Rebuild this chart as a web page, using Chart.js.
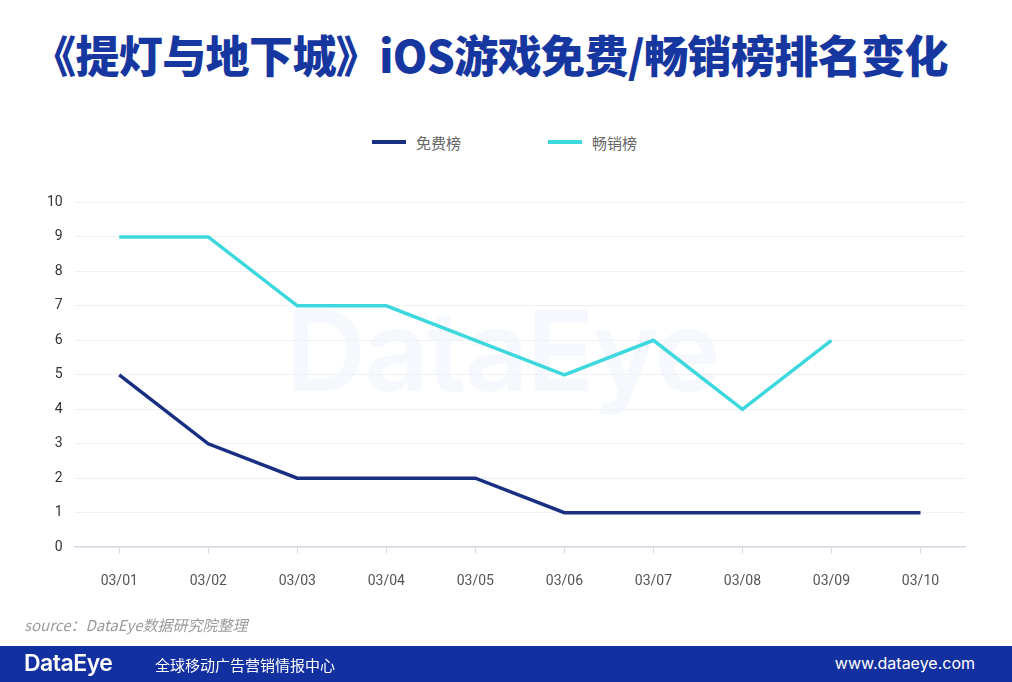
<!DOCTYPE html>
<html lang="zh">
<head>
<meta charset="UTF-8">
<title>提灯与地下城 iOS 排名变化</title>
<script src="https://cdn.jsdelivr.net/npm/chart.js@4.4.0/dist/chart.umd.min.js"></script>
<style>
  body { margin: 0; background: #fff; font-family: "Noto Sans CJK SC", "Noto Sans", sans-serif; }
  .page { position: relative; width: 1012px; height: 682px; overflow: hidden; background: #fff; }
  .title {
    position: absolute; top: 26px; left: -16px; width: 1012px; text-align: center;
    font-size: 44px; font-weight: 900; color: #1737a0; letter-spacing: -0.6px; line-height: 56px;
  }
  .legend { position: absolute; top: 131px; left: 0; width: 1012px; height: 22px; font-size: 15px; color: #666; }
  .legend .item { position: absolute; top: 0; display: flex; align-items: center; height: 22px; }
  .legend .swatch { width: 34px; height: 4px; margin-right: 10px; }
  .watermark {
    position: absolute; top: 282px; left: -4px; width: 1012px; text-align: center;
    font-family: "Inter", "Open Sans", sans-serif; font-size: 112px; font-weight: 600;
    color: rgba(215, 228, 245, 0.25); letter-spacing: -2px;
  }
  .chart-box { position: absolute; left: 0; top: 182px; width: 1012px; height: 440px; }
  .source {
    position: absolute; left: 24px; top: 614px; font-size: 15px; font-style: italic; color: #9a9a9a;
  }
  .footer {
    position: absolute; left: 0; top: 646px; width: 1012px; height: 36px; background: #1330a0; color: #fff;
  }
  .footer .logo { position: absolute; left: 24px; top: 3px; font-family: "Inter", sans-serif; font-size: 23px; font-weight: 600; letter-spacing: -0.5px; }
  .footer .slogan { position: absolute; left: 155px; top: 8px; font-size: 15px; }
  .footer .url { position: absolute; right: 37px; top: 7px; font-family: "Inter", sans-serif; font-size: 16px; }
</style>
</head>
<body>
<div class="page">
  <div class="title">《提灯与地下城》iOS游戏免费/畅销榜排名变化</div>
  <div class="legend">
    <div class="item" style="left:372px"><span class="swatch" style="background:#182f82"></span>免费榜</div>
    <div class="item" style="left:548px"><span class="swatch" style="background:#3dd8de"></span>畅销榜</div>
  </div>
  <div class="watermark">DataEye</div>
  <div class="chart-box"><canvas id="chart"></canvas></div>
  <div class="source">source：DataEye数据研究院整理</div>
  <div class="footer">
    <div class="logo">DataEye</div>
    <div class="slogan">全球移动广告营销情报中心</div>
    <div class="url">www.dataeye.com</div>
  </div>
</div>

<script>
  const dates = ['03/01', '03/02', '03/03', '03/04', '03/05', '03/06', '03/07', '03/08', '03/09', '03/10'];
  const freeRank = [5, 3, 2, 2, 2, 1, 1, 1, 1, 1];
  const grossingRank = [9, 9, 7, 7, 6, 5, 6, 4, 6, null];

  const ctx = document.getElementById('chart').getContext('2d');
  new Chart(ctx, {
    type: 'line',
    data: {
      labels: dates,
      datasets: [
        {
          label: '免费榜',
          data: freeRank,
          borderColor: '#182f82',
          borderWidth: 3.5,
          pointRadius: 0,
          tension: 0
        },
        {
          label: '畅销榜',
          data: grossingRank,
          borderColor: '#3dd8de',
          borderWidth: 3.5,
          pointRadius: 0,
          tension: 0
        }
      ]
    },
    options: {
      responsive: true,
      maintainAspectRatio: false,
      animation: false,
      layout: { padding: { left: 35, right: 47, top: 12, bottom: 12 } },
      plugins: { legend: { display: false }, tooltip: { enabled: false } },
      scales: {
        x: {
          offset: true,
          grid: { display: true, drawOnChartArea: false, offset: false, tickLength: 6, color: '#d5dae6' },
          border: { display: true, color: '#d5dae6', width: 1.5 },
          ticks: { padding: 20, color: '#555', font: { size: 14, family: 'Roboto, sans-serif' } }
        },
        y: {
          min: 0,
          max: 10,
          ticks: { stepSize: 1, padding: 12, color: '#333', font: { size: 14, family: 'Roboto, sans-serif' } },
          grid: { color: '#eef1f6', drawTicks: false },
          border: { display: false }
        }
      }
    }
  });
</script>
</body>
</html>
